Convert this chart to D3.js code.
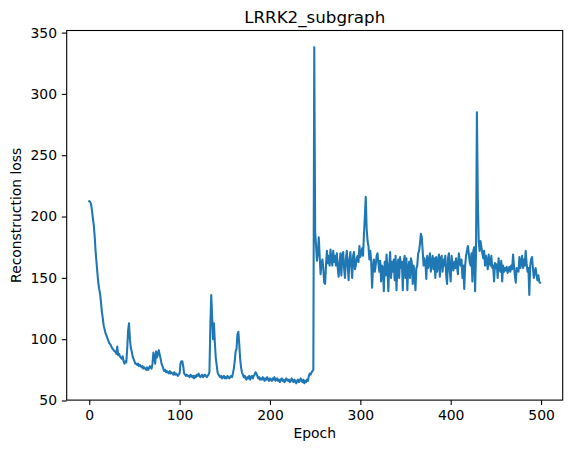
<!DOCTYPE html>
<html>
<head>
<meta charset="utf-8">
<script src="https://cdn.jsdelivr.net/npm/d3@7"></script>
<style>
  html, body { margin: 0; padding: 0; background: #fff; }
  svg { display: block; font-family: "DejaVu Sans", sans-serif; }
</style>
</head>
<body>
<svg width="571" height="453"></svg>
<script>
/* global d3 */

const title  = 'LRRK2_subgraph';
const xLabel = 'Epoch';
const yLabel = 'Reconstruction loss';
const xTicks = [0, 100, 200, 300, 400, 500];
const yTicks = [50, 100, 150, 200, 250, 300, 350];

// loss per epoch (epochs 0..499)
const loss0 = [
  212.5, 212, 210, 205, 199, 193, 184, 172, 163, 154,
  146, 141, 137, 130, 122, 117, 111, 108, 105, 103,
  101, 99, 97, 96, 95, 93, 92, 91, 90, 90,
  88, 94, 87, 88, 86, 85, 84, 86, 82, 80,
  82, 81, 92, 107, 113, 100, 93, 90, 86, 84
];
const loss50 = [
  82, 80, 80, 79, 80, 78, 79, 78, 77, 78,
  76, 77, 76, 75, 77, 75, 76, 78, 77, 76,
  80, 89, 86, 80, 90, 85, 88, 91, 87, 84,
  80, 78, 76, 74, 75, 73, 74, 73, 72, 74,
  72, 73, 72, 71, 73, 71, 72, 71, 70, 71,
  72, 80, 82, 82, 78, 72, 71, 70, 71, 70
];
const loss110 = [
  70, 69, 71, 70, 69, 70, 68, 70, 69, 71,
  70, 72, 70, 69, 70, 71, 69, 70, 71, 70,
  69, 70, 71, 73, 110, 136, 118, 100, 113, 97,
  85, 79, 73, 71, 70, 69, 70, 68, 69, 70,
  68, 69, 68, 70, 69, 68, 69, 70, 69, 72,
  76, 82, 90, 92, 104, 106, 96, 84, 77, 73,
  71, 69, 70, 68, 67, 69, 68, 70, 67, 69,
  70, 68, 70, 71, 73, 72, 70, 68, 69, 67
];
const loss190 = [
  68, 67, 69, 68, 66, 68, 67, 69, 67, 66,
  68, 67, 66, 68, 67, 69, 66, 67, 68, 66,
  67, 65, 67, 68, 66, 67, 65, 66, 68, 67,
  66, 67, 65, 66, 68, 66, 65, 67, 66, 64,
  66, 67, 65, 66, 68, 66, 65, 67, 64, 66,
  65, 67, 66, 70, 72, 71, 73, 74, 75, 338
];
const loss250 = [
  188, 176, 164, 170, 183, 168, 153, 162, 165, 158,
  146, 145, 160, 172, 162, 168, 160, 173, 165, 160,
  172, 163, 168, 160, 170, 158, 151, 162, 170, 152,
  168, 171, 158, 150, 165, 172, 160, 148, 165, 171,
  160, 150, 168, 171, 157, 160, 166, 168, 163, 176,
  167, 170, 174, 168, 185, 200, 216, 190, 180, 176,
  165, 172, 164, 142, 158, 165, 155, 160, 168, 170,
  162, 155, 164, 147, 160, 158, 139, 163, 152, 169,
  158, 139, 160, 171, 150, 163, 155, 165, 148, 168,
  140, 160, 165, 150, 167, 158, 163, 140, 162, 168,
  150, 166, 140, 158, 163, 150, 166, 162, 145, 160,
  152, 140, 158, 160, 170, 172, 178, 186, 183, 172,
  160, 166, 163, 149, 168, 158, 162, 170, 155, 162
];
const loss380 = [
  168, 157, 166, 150, 167, 155, 163, 169, 151, 166,
  168, 155, 165, 160, 168, 152, 145, 166, 170, 155,
  147, 168, 160, 156, 163, 158, 166, 159, 153, 170,
  164, 160, 165, 150, 160, 141, 160, 168, 172, 176,
  170, 163, 160, 170, 147, 172, 175, 139, 170, 285,
  215, 180, 172, 180, 175, 170, 166, 172, 160, 168,
  163, 157, 169, 162, 160, 168, 158, 160, 147, 162,
  158, 161, 150, 166, 158, 155, 164, 147, 160, 155,
  158, 156, 159, 154, 157, 159, 155, 160, 157, 169,
  160, 152, 146, 158, 156, 155, 167, 158, 162, 168,
  158, 165, 160, 172, 162, 155, 158, 136, 160, 165,
  167, 158, 150, 155, 158, 152, 148, 152, 147, 146
];

const loss = [].concat(loss0, loss50, loss110, loss190, loss250, loss380);
const data = loss.map((v, i) => ({ epoch: i, loss: v }));

const svg = d3.select('svg');

// axes box as matplotlib lays it out
const boxLeft = 66.7, boxTop = 30.5, boxW = 496, boxH = 369.6;

const xExt = d3.extent(data, (d) => d.epoch);
const yExt = d3.extent(data, (d) => d.loss);
const xPad = (xExt[1] - xExt[0]) * 0.05;
const yPad = (yExt[1] - yExt[0]) * 0.05;

const x = d3.scaleLinear().domain([xExt[0] - xPad, xExt[1] + xPad]).range([boxLeft, boxLeft + boxW]);
const y = d3.scaleLinear().domain([yExt[0] - yPad, yExt[1] + yPad]).range([boxTop + boxH, boxTop]);

const g = svg.append('g');

g.append('clipPath').attr('id', 'clip')
  .append('rect').attr('x', boxLeft).attr('y', boxTop).attr('width', boxW).attr('height', boxH);

g.append('path')
  .datum(data)
  .attr('clip-path', 'url(#clip)')
  .attr('fill', 'none')
  .attr('stroke', '#1f77b4')
  .attr('stroke-width', 2.08)
  .attr('stroke-linejoin', 'round')
  .attr('stroke-linecap', 'square')
  .attr('d', d3.line().x((d) => x(d.epoch)).y((d) => y(d.loss)));

const xAxis = g.append('g')
  .attr('transform', `translate(0,${boxTop + boxH})`)
  .call(d3.axisBottom(x).tickValues(xTicks).tickSize(4.86).tickPadding(4.86).tickSizeOuter(0));

const yAxis = g.append('g')
  .attr('transform', `translate(${boxLeft},0)`)
  .call(d3.axisLeft(y).tickValues(yTicks).tickSize(4.86).tickPadding(4.86).tickSizeOuter(0));

[xAxis, yAxis].forEach((a) => {
  a.select('.domain').remove();
  a.selectAll('.tick line').attr('stroke', '#000').attr('stroke-width', 1.1);
  a.selectAll('.tick text')
    .attr('fill', '#000')
    .style('font-family', '"DejaVu Sans", sans-serif')
    .style('font-size', '13.9px');
});

// spines
g.append('rect')
  .attr('x', boxLeft).attr('y', boxTop).attr('width', boxW).attr('height', boxH)
  .attr('fill', 'none').attr('stroke', '#000').attr('stroke-width', 1.1);

svg.append('text')
  .attr('x', boxLeft + boxW / 2).attr('y', 22.7)
  .attr('text-anchor', 'middle')
  .style('font-size', '16.7px')
  .text(title);

svg.append('text')
  .attr('x', boxLeft + boxW / 2).attr('y', 438.4)
  .attr('text-anchor', 'middle')
  .style('font-size', '13.9px')
  .text(xLabel);

svg.append('text')
  .attr('transform', `translate(21.2,${boxTop + boxH / 2}) rotate(-90)`)
  .attr('text-anchor', 'middle')
  .style('font-size', '13.9px')
  .text(yLabel);
</script>
</body>
</html>
